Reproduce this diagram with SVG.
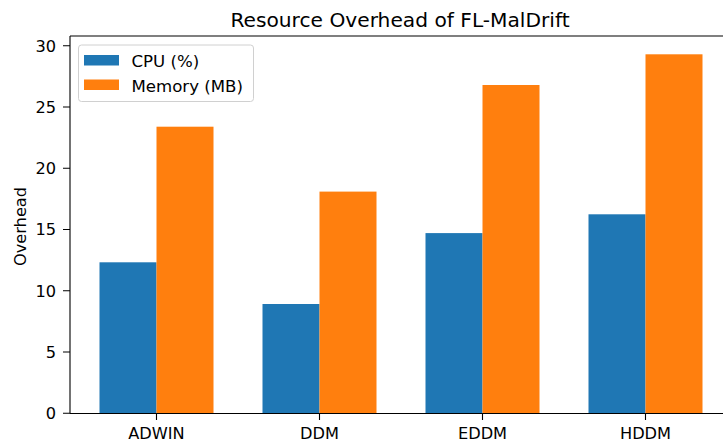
<svg xmlns="http://www.w3.org/2000/svg" width="723" height="443" viewBox="0 0 723 443">
<style>
text{font-family:"DejaVu Sans","Liberation Sans",sans-serif;fill:#000}
.tick{font-size:16.2px}
.leg{font-size:16.6px}
.yt{text-anchor:end}
.xt{text-anchor:middle}
.cpu{fill:#1f77b4}
.mem{fill:#ff7f0e}
.sp{stroke:#000;stroke-width:1.1;fill:none}
</style>
<rect width="723" height="443" fill="#fff"/>
<g id="bars">
<rect class="cpu" x="99.5" y="262.3" width="57" height="151"/>
<rect class="mem" x="156.5" y="126.7" width="57" height="286.6"/>
<rect class="cpu" x="262.5" y="304" width="57" height="109.3"/>
<rect class="mem" x="319.5" y="191.6" width="57" height="221.7"/>
<rect class="cpu" x="425.5" y="233.1" width="57" height="180.2"/>
<rect class="mem" x="482.5" y="85" width="57" height="328.3"/>
<rect class="cpu" x="588.5" y="214.3" width="57" height="199"/>
<rect class="mem" x="645.5" y="54.3" width="57" height="359"/>
</g>
<g id="axes">
<path class="sp" d="M70,36 V413.5 M70,413.5 H723 M70,36 H723"/>
<path class="sp" d="M63,413.3 H70 M63,352 H70 M63,290.8 H70 M63,229.5 H70 M63,168.3 H70 M63,107 H70 M63,45.7 H70"/>
<path class="sp" d="M156.5,413.5 V420 M319.5,413.5 V420 M482.5,413.5 V420 M645.5,413.5 V420"/>
<g class="tick yt">
<text x="56" y="419.1">0</text>
<text x="56" y="357.8">5</text>
<text x="56" y="296.6">10</text>
<text x="56" y="235.3">15</text>
<text x="56" y="174.1">20</text>
<text x="56" y="112.8">25</text>
<text x="56" y="51.5">30</text>
</g>
<g class="tick xt">
<text x="156.5" y="438.5">ADWIN</text>
<text x="319.5" y="438.5">DDM</text>
<text x="482.5" y="438.5">EDDM</text>
<text x="645.5" y="438.5">HDDM</text>
</g>
<text class="tick" text-anchor="middle" transform="translate(25.5,226.5) rotate(-90)">Overhead</text>
<text x="400" y="26.5" text-anchor="middle" font-size="20.2">Resource Overhead of FL-MalDrift</text>
</g>
<g id="legend">
<rect x="78.5" y="45" width="175" height="56.5" rx="3" fill="#fff" fill-opacity="0.8" stroke="#d0d0d0" stroke-width="1"/>
<rect class="cpu" x="84" y="55" width="35" height="10.5"/>
<rect class="mem" x="84" y="79.5" width="35" height="10.5"/>
<text class="leg" x="131.5" y="66.5">CPU (%)</text>
<text class="leg" x="131.5" y="92">Memory (MB)</text>
</g>
</svg>
